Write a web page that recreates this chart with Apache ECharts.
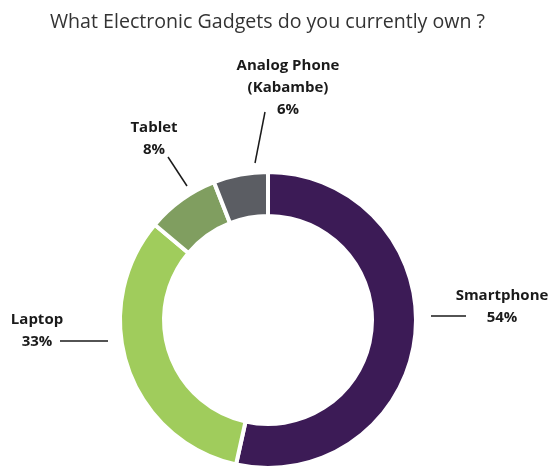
<!DOCTYPE html>
<html>
<head>
<meta charset="utf-8">
<script src="https://cdn.jsdelivr.net/npm/echarts@6/dist/echarts.min.js"></script>
<style>
  html, body { margin: 0; padding: 0; background: #ffffff; }
  #chart { width: 550px; height: 468px; }
</style>
</head>
<body>
<div id="chart"></div>
<script>
// Survey answers: share of respondents owning each gadget (%)
const categories = ['Smartphone', 'Laptop', 'Tablet', 'Analog Phone\n(Kabambe)'];
const shares = [54, 33, 8, 6];
const sliceColors = ['#3c1b56', '#a0cc5c', '#809e60', '#5b5d63'];

// Callout placement for each slice label: text centre and leader line ends (px)
const callouts = [
  { x: 502, y: 307, line: [[431, 316], [466, 316]] },
  { x: 37, y: 331, line: [[108, 341], [60, 341]] },
  { x: 154, y: 139, line: [[187, 186], [168, 157]] },
  { x: 288, y: 88, line: [[255, 163], [265, 112]] }
];

const chart = echarts.init(document.getElementById('chart'), null, { renderer: 'canvas' });

chart.setOption({
  animation: false,
  backgroundColor: '#ffffff',
  title: {
    text: 'What Electronic Gadgets do you currently own ?',
    left: 45,
    top: 7,
    textStyle: {
      fontFamily: 'Open Sans',
      fontSize: 19.6,
      fontWeight: 'normal',
      color: '#333333'
    }
  },
  series: [{
    type: 'pie',
    center: [268, 320],
    radius: [104, 148],
    startAngle: 90,
    clockwise: true,
    avoidLabelOverlap: false,
    itemStyle: { borderColor: '#ffffff', borderWidth: 4 },
    label: {
      show: true,
      position: 'outside',
      formatter: p => p.name + '\n' + p.value + '%',
      fontFamily: 'Open Sans',
      fontWeight: 'bold',
      fontSize: 15,
      lineHeight: 22,
      color: '#1a1a1a',
      align: 'center'
    },
    labelLine: {
      show: true,
      lineStyle: { color: '#1a1a1a', width: 1.5 }
    },
    labelLayout: function (params) {
      const c = callouts[params.dataIndex];
      const [a, b] = c.line;
      return {
        x: c.x,
        y: c.y,
        align: 'center',
        verticalAlign: 'middle',
        labelLinePoints: [a, a, b]
      };
    },
    data: categories.map((name, i) => ({
      name: name,
      value: shares[i],
      itemStyle: { color: sliceColors[i] }
    }))
  }]
});
</script>
</body>
</html>
